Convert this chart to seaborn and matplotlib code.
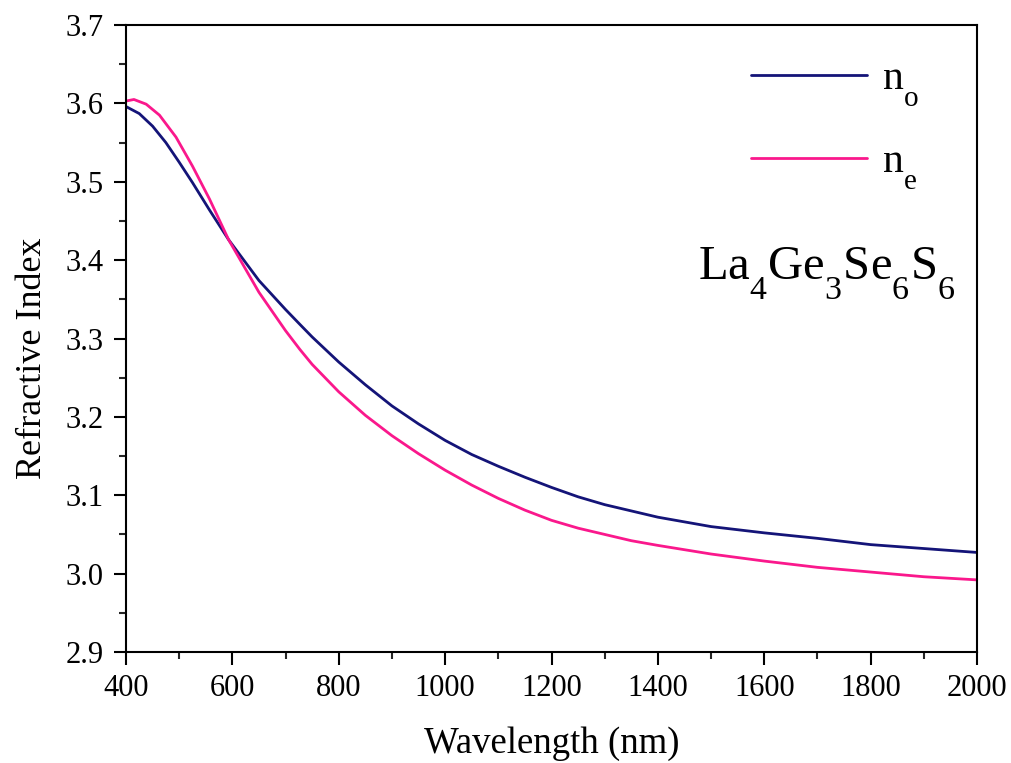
import numpy as np
import pandas as pd
import matplotlib
matplotlib.use("Agg")
import matplotlib.pyplot as plt
import matplotlib._mathtext as _mt
import seaborn as sns
from matplotlib.ticker import MultipleLocator, FormatStrFormatter

# Data
wl_o = [400, 425, 450, 475, 500, 525, 557, 593, 650, 700, 727, 750, 800, 850,
        900, 950, 1000, 1050, 1100, 1150, 1200, 1250, 1300, 1350, 1400, 1500,
        1600, 1700, 1800, 1900, 2000]
n_o = [3.596, 3.587, 3.571, 3.550, 3.525, 3.499, 3.464, 3.426, 3.374, 3.337,
       3.318, 3.302, 3.270, 3.241, 3.214, 3.191, 3.170, 3.152, 3.137, 3.123,
       3.110, 3.098, 3.088, 3.080, 3.072, 3.060, 3.052, 3.045, 3.037, 3.032,
       3.027]
wl_e = [400, 415, 438, 463, 494, 525, 557, 593, 650, 700, 727, 750, 800, 850,
        900, 950, 1000, 1050, 1100, 1150, 1200, 1250, 1300, 1350, 1400, 1500,
        1600, 1700, 1800, 1900, 2000]
n_e = [3.603, 3.605, 3.599, 3.585, 3.557, 3.520, 3.478, 3.426, 3.359, 3.310,
       3.286, 3.267, 3.232, 3.202, 3.176, 3.153, 3.132, 3.113, 3.096, 3.081,
       3.068, 3.058, 3.050, 3.042, 3.036, 3.025, 3.016, 3.008, 3.002, 2.996,
       2.992]
labels = ["n$_\\mathrm{o}$", "n$_\\mathrm{e}$"]
compound = "La$_\\mathrm{4}$Ge$_\\mathrm{3}$Se$_\\mathrm{6}$S$_\\mathrm{6}$"

sns.set_theme(style="ticks")
plt.rcParams["font.family"] = ["Liberation Serif", "DejaVu Serif"]
plt.rcParams["mathtext.fontset"] = "custom"
plt.rcParams["mathtext.rm"] = "Liberation Serif"
plt.rcParams["mathtext.it"] = "Liberation Serif:italic"
plt.rcParams["text.color"] = "black"
plt.rcParams["axes.labelcolor"] = "black"
# lower subscripts, as in the reference
_mt.FontConstantsBase.sub1 = 0.92

fig = plt.figure(figsize=(10.11, 7.63), dpi=100)
ax = fig.add_axes([0.1246, 0.1455, 0.9664 - 0.1246, 0.9672 - 0.1455])

df_o = pd.DataFrame({"wl": wl_o, "n": n_o})
df_e = pd.DataFrame({"wl": wl_e, "n": n_e})
sns.lineplot(data=df_o, x="wl", y="n", ax=ax, color="#141478", lw=2.0, label=labels[0])
sns.lineplot(data=df_e, x="wl", y="n", ax=ax, color="#fa188c", lw=2.0, label=labels[1])

ax.set_xlim(400, 2000)
ax.set_ylim(2.9, 3.7)
ax.xaxis.set_major_locator(MultipleLocator(200))
ax.xaxis.set_minor_locator(MultipleLocator(100))
ax.yaxis.set_major_locator(MultipleLocator(0.1))
ax.yaxis.set_minor_locator(MultipleLocator(0.05))
ax.yaxis.set_major_formatter(FormatStrFormatter("%.1f"))

for s in ax.spines.values():
    s.set_visible(True)
    s.set_linewidth(1.5)
    s.set_color("black")
ax.tick_params(which="major", direction="out", length=9, width=1.5,
               labelsize=22, colors="black", top=False, right=False, pad=7)
ax.tick_params(which="minor", direction="out", length=5, width=1.5,
               top=False, right=False)

ax.set_xlabel("Wavelength (nm)", fontsize=26.5, labelpad=17)
ax.set_ylabel("Refractive Index", fontsize=26, labelpad=12)
ax.yaxis.label.set_y(0.469)

leg = ax.legend(loc="upper right", frameon=False, fontsize=30,
                handlelength=2.8, handletextpad=0.35, labelspacing=0.8,
                borderaxespad=0.0, bbox_to_anchor=(0.951, 0.970))

ax.text(0.975, 0.593, compound, transform=ax.transAxes, ha="right",
        va="baseline", fontsize=35)

fig.savefig("out.png", dpi=100)
